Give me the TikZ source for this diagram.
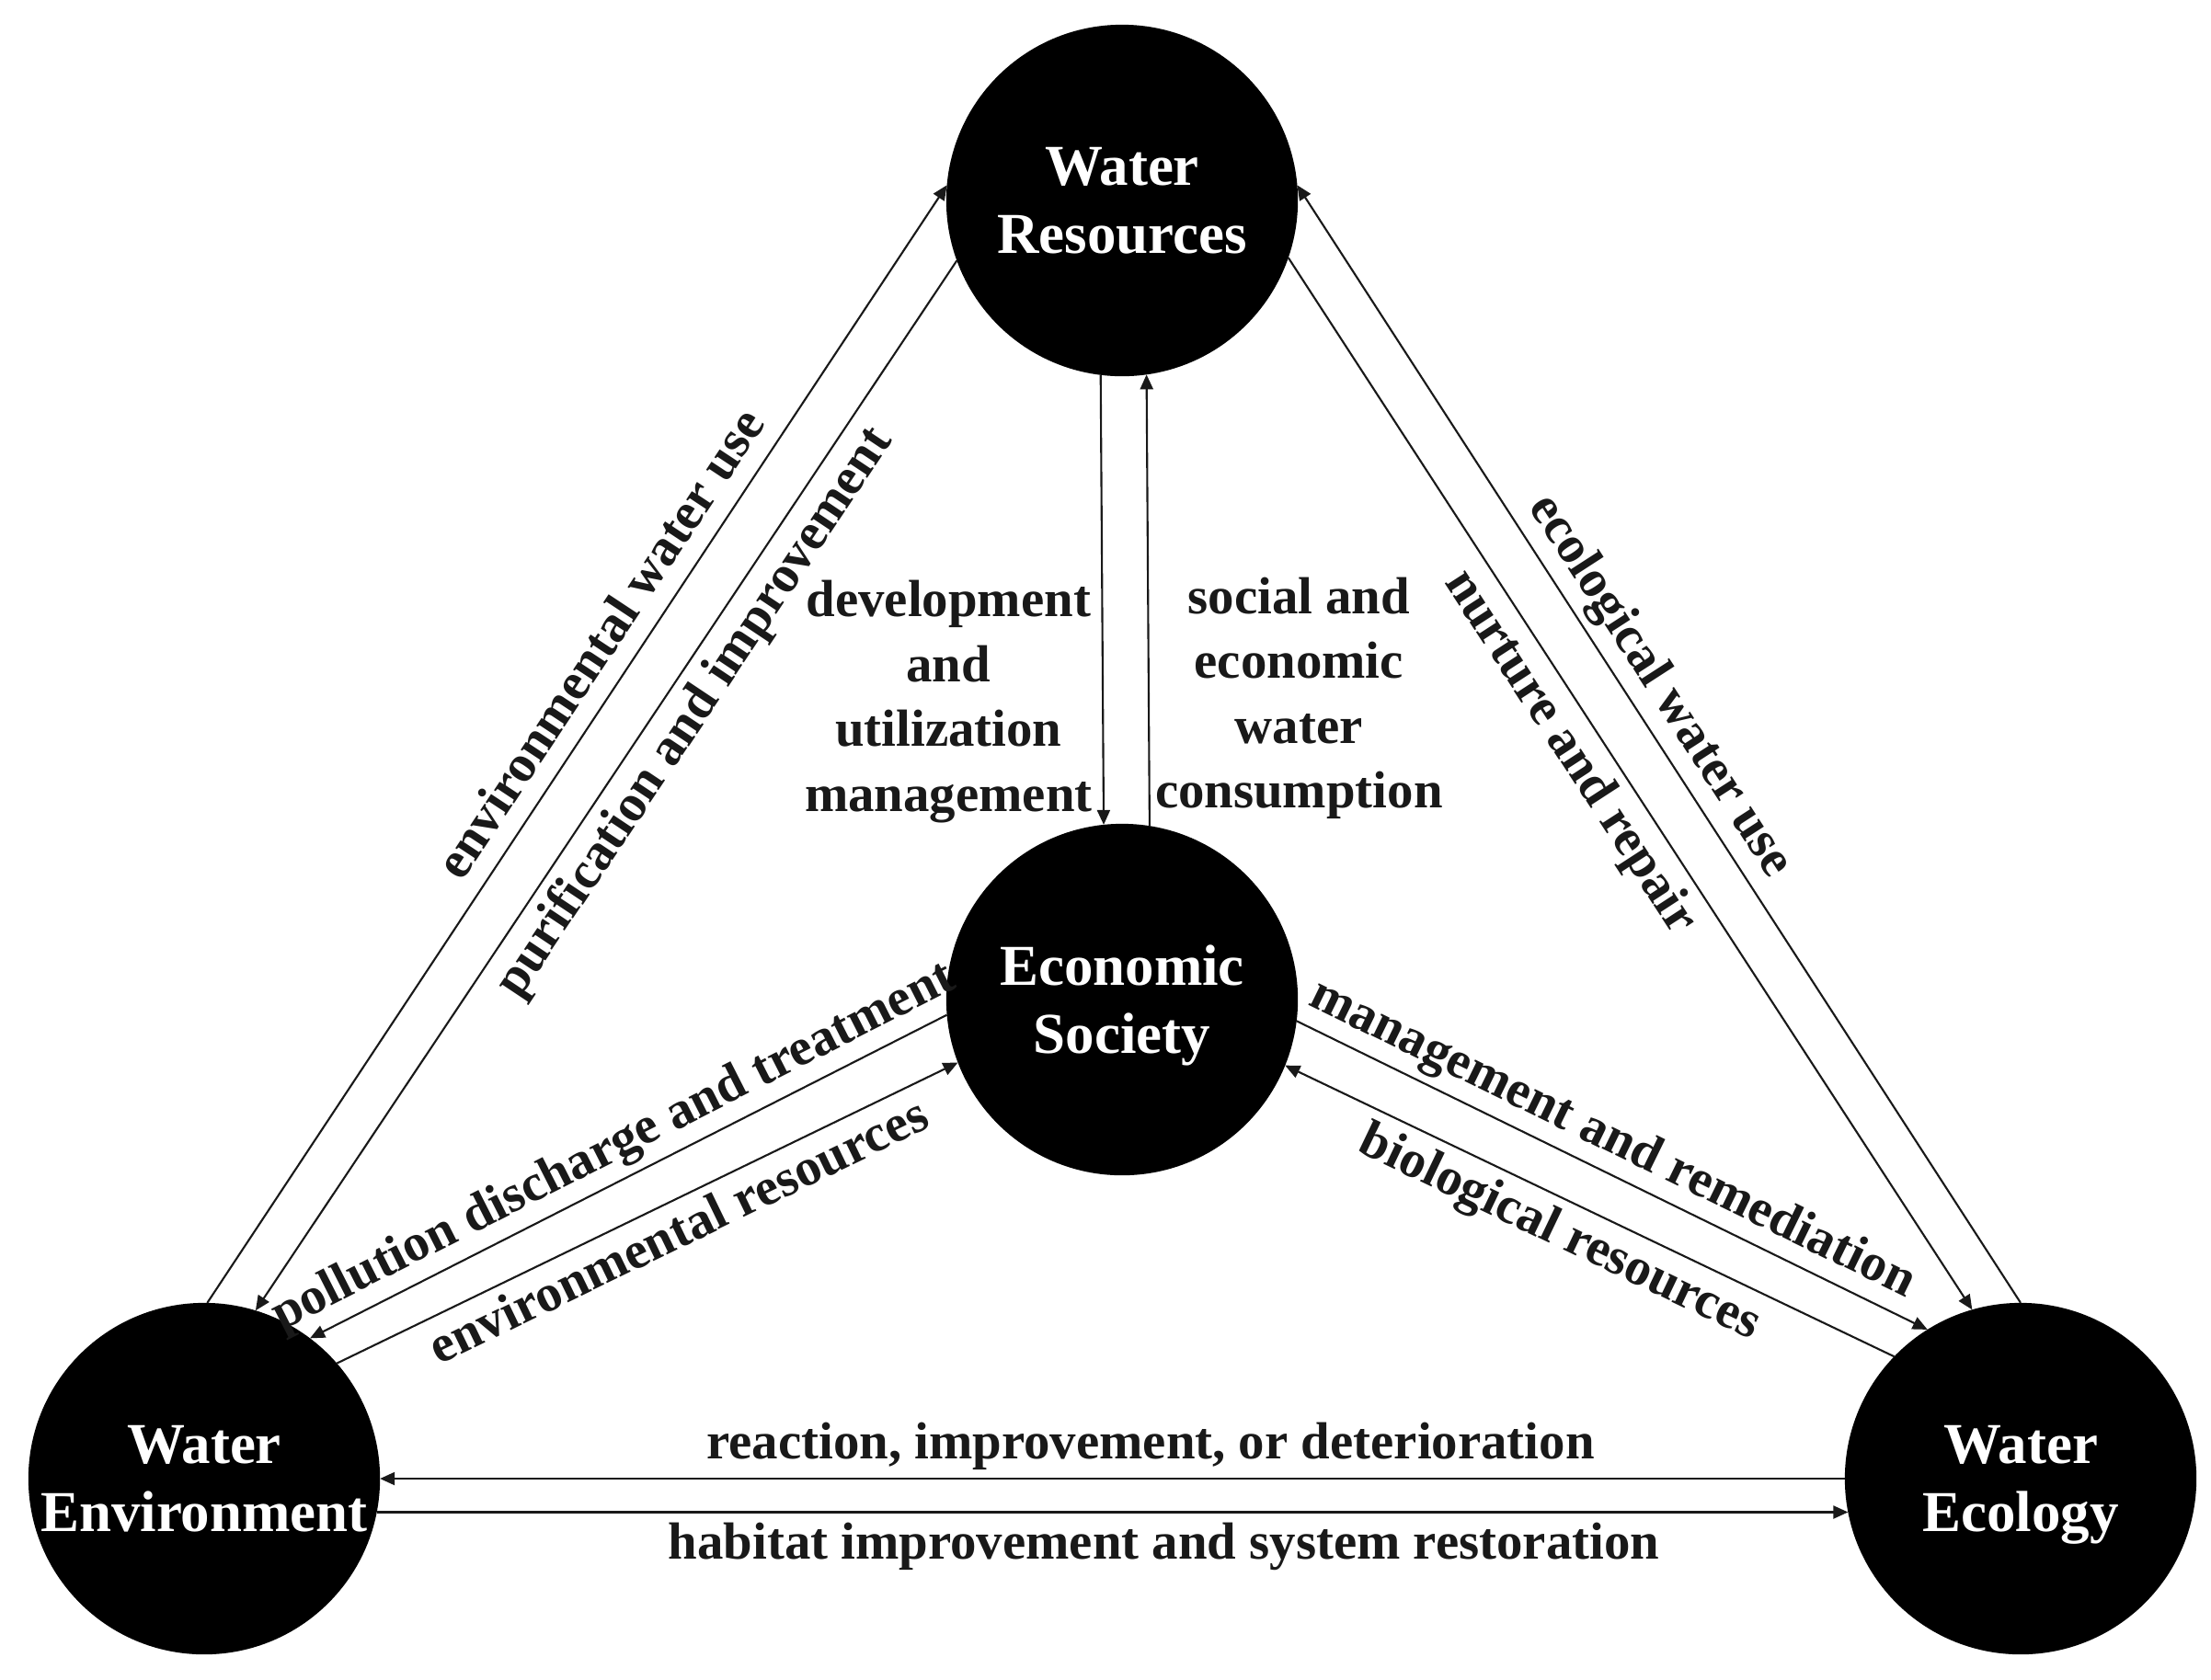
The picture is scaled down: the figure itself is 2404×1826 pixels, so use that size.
\documentclass[tikz,border=0pt]{standalone}
\usepackage{fontspec}
\setmainfont{Liberation Serif}
\usetikzlibrary{arrows.meta}
\begin{document}
\begin{tikzpicture}[x=0.01cm,y=0.01cm,
  sys/.style={circle, fill=black, draw=black, line width=0.6pt, minimum size=3.8cm,
    inner sep=0pt, text=white, align=center,
    font=\bfseries\fontsize{17.9pt}{21.05pt}\selectfont},
  lab/.style={inner sep=0pt, text=black!90,
    font=\bfseries\fontsize{16.16pt}{20.06pt}\selectfont},
  labA/.style={lab, sloped, above=0.2cm, text depth=0pt},
  labB/.style={lab, sloped, below=0.1cm},
  flow/.style={draw=black!90, line width=0.6pt, -{Triangle[length=0.16cm,width=0.14cm]}},
  flowR/.style={draw=black!90, line width=0.6pt, {Triangle[length=0.16cm,width=0.14cm]}-},
]
\useasboundingbox (0,0) rectangle (2404,-1826);
\node[sys] (WR) at (1220,-218) {Water\\Resources};
\node[sys] (ES) at (1220,-1087) {Economic\\Societ\smash{y}};
\node[sys] (WE) at (222,-1608) {Water\\Environment};
\node[sys] (WC) at (2197,-1608) {Water\\Ecolo\smash{gy}};

\draw[flow] (WE.89.7) -- node[labA,pos=0.572]{environmental water use} (WR.175.4);
\draw[flowR] (WE.73.2) -- node[labB,pos=0.587]{purification and improvement} (WR.200);
\draw[flowR] (WE.53.6) -- node[labA,pos=0.5]{pollution discharge and treatment} (ES.185.5);
\draw[flow] (WE.41.9) -- node[labB,pos=0.529]{environmental resources} (ES.201);
\draw[flow] (ES.353.6) -- node[labA,pos=0.478]{management and remediation} (WC.122.4);
\draw[flowR] (ES.338.4) -- node[labB,pos=0.474]{biological resources} (WC.136.9);
\draw[flow] (WR.341.6) -- node[labB,pos=0.453]{nurture and repair} (WC.106.3);
\draw[flowR] (WR.5.5) -- node[labA,pos=0.464]{ecological water use} (WC.90);
\draw[flowR] (WE.0) -- node[lab,above=0.2cm,text depth=0pt,pos=0.526]{reaction, improvement, or deterioration} (WC.180);
\draw[flow] (WE.-11) -- node[lab,below=0.1cm,pos=0.535]{habitat improvement and system restoration} (WC.191);
\draw[flow] (WR.263.35) -- node[lab,align=center,left=0.105cm,pos=0.726]{development\\and\\utilization\\management} (ES.96.65);
\draw[flowR] (WR.278.47) -- node[lab,align=center,right=0.06cm,pos=0.717]{social and\\economic\\water\\consumption} (ES.81.53);
\end{tikzpicture}
\end{document}
